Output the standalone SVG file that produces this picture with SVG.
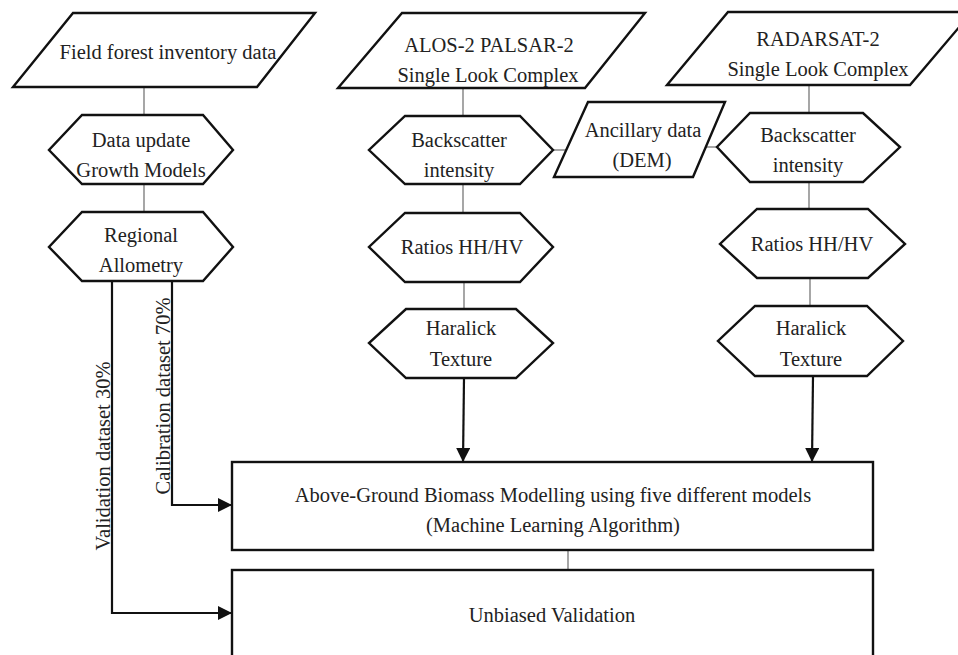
<svg xmlns="http://www.w3.org/2000/svg" width="958" height="655" viewBox="0 0 958 655">
<style>
.shape{fill:#fff;stroke:#111;stroke-width:2.4;stroke-linejoin:miter}
.thin{stroke:#777;stroke-width:1.3;fill:none}
.arr{stroke:#111;stroke-width:2.2;fill:none}
text{font-family:"Liberation Serif","Times New Roman",serif;font-size:20.5px;fill:#222;text-anchor:middle}
</style>
<defs>
<marker id="ah" markerUnits="userSpaceOnUse" markerWidth="14" markerHeight="14" viewBox="0 0 14 14" refX="14" refY="7" orient="auto">
<path d="M0,0 L14,7 L0,14 Z" fill="#111"/>
</marker>
</defs>
<rect x="0" y="0" width="958" height="655" fill="#fff"/>
<g id="connectors">
<line class="thin" x1="144" y1="87" x2="144" y2="115"/>
<line class="thin" x1="144" y1="184" x2="144" y2="212"/>
<line class="thin" x1="463" y1="88" x2="463" y2="116"/>
<line class="thin" x1="463" y1="184" x2="463" y2="213"/>
<line class="thin" x1="464" y1="282" x2="464" y2="309"/>
<line class="thin" x1="553" y1="150" x2="566" y2="150"/>
<line class="thin" x1="706" y1="147" x2="717" y2="147"/>
<line class="thin" x1="809" y1="85" x2="809" y2="113"/>
<line class="thin" x1="809" y1="182" x2="809" y2="209"/>
<line class="thin" x1="810" y1="278" x2="810" y2="306"/>
<line class="thin" x1="568" y1="550" x2="568" y2="570"/>
<path class="arr" d="M464,378 L463,462" marker-end="url(#ah)"/>
<path class="arr" d="M813,376 L812,462" marker-end="url(#ah)"/>
<path class="arr" d="M172,281 L172,505 L232,505" marker-end="url(#ah)"/>
<path class="arr" d="M112,281 L112,613 L232,613" marker-end="url(#ah)"/>
</g>
<g id="field">
<polygon class="shape" points="73,13 315,13 257,87 13,87"/>
<text x="168" y="59">Field forest inventory data</text>
</g>
<g id="growth">
<polygon class="shape" points="82,115 203,115 233,150 203,184 82,184 49,150"/>
<text x="141" y="147">Data update</text>
<text x="141" y="177">Growth Models</text>
</g>
<g id="allometry">
<polygon class="shape" points="82,212 203,212 233,247 203,281 82,281 49,247"/>
<text x="141" y="242">Regional</text>
<text x="141" y="272">Allometry</text>
</g>
<g id="alos">
<polygon class="shape" points="402,13 645,13 585,88 338,88"/>
<text x="489" y="52">ALOS-2 PALSAR-2</text>
<text x="488" y="82">Single Look Complex</text>
</g>
<g id="backscatter-alos">
<polygon class="shape" points="405,116 520,116 553,150 520,184 405,184 369,150"/>
<text x="459" y="147">Backscatter</text>
<text x="459" y="177">intensity</text>
</g>
<g id="ratios-alos">
<polygon class="shape" points="405,213 520,213 553,247 520,282 405,282 369,247"/>
<text x="462" y="254">Ratios HH/HV</text>
</g>
<g id="haralick-alos">
<polygon class="shape" points="406,309 516,309 553,343 516,378 406,378 369,343"/>
<text x="461" y="335">Haralick</text>
<text x="461" y="366">Texture</text>
</g>
<g id="ancillary">
<polygon class="shape" points="588,102 725,102 693,177 554,177"/>
<text x="643" y="137">Ancillary data</text>
<text x="642" y="167">(DEM)</text>
</g>
<g id="radarsat">
<polygon class="shape" points="728,12 972,12 910,85 667,85"/>
<text x="818" y="46">RADARSAT-2</text>
<text x="818" y="76">Single Look Complex</text>
</g>
<g id="backscatter-radarsat">
<polygon class="shape" points="750,113 863,113 900,147 863,182 750,182 717,147"/>
<text x="808" y="142">Backscatter</text>
<text x="808" y="172">intensity</text>
</g>
<g id="ratios-radarsat">
<polygon class="shape" points="757,209 868,209 905,244 868,278 757,278 720,244"/>
<text x="812" y="251">Ratios HH/HV</text>
</g>
<g id="haralick-radarsat">
<polygon class="shape" points="755,306 867,306 903,341 867,376 755,376 718,341"/>
<text x="811" y="335">Haralick</text>
<text x="811" y="366">Texture</text>
</g>
<g id="agb">
<rect class="shape" x="232" y="462" width="641" height="88"/>
<text x="553" y="502">Above-Ground Biomass Modelling using five different models</text>
<text x="553" y="532">(Machine Learning Algorithm)</text>
</g>
<g id="validation">
<rect class="shape" x="232" y="570" width="641" height="100"/>
<text x="552" y="622">Unbiased Validation</text>
</g>
<g id="labels">
<text transform="translate(110,456) rotate(-90)">Validation dataset 30%</text>
<text transform="translate(170,396) rotate(-90)">Calibration dataset 70%</text>
</g>
</svg>
